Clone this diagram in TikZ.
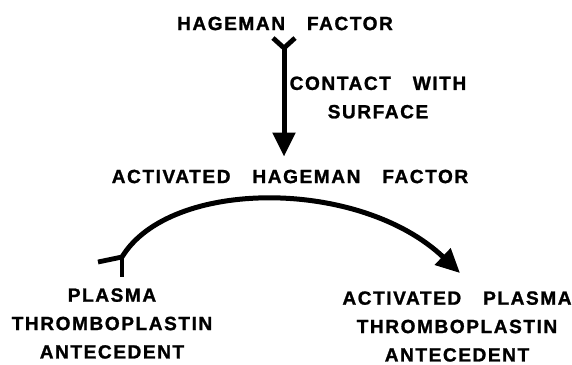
\documentclass[tikz,border=0pt]{standalone}
\usepackage{fontspec}
\usepackage{tikz}
\usetikzlibrary{arrows.meta}
\newfontfamily\lblfont[LetterSpace=8,WordSpace=3.2,FakeBold=1.2]{Liberation Sans Bold}

\begin{document}
\begin{tikzpicture}[x=0.025cm,y=-0.025cm,
  lbl/.style={font=\lblfont\fontsize{13.6pt}{20.2pt}\selectfont,align=center,inner sep=2pt},
  flow/.style={line width=0.125cm,-{Triangle[length=0.6cm,width=0.55cm]}},
  tail/.style={line width=0.12cm,line cap=butt}]
\useasboundingbox (0,0) rectangle (572,364);
\node[lbl] (hf) at (285,23.5) {HAGEMAN FACTOR};
\node[lbl] (cws) at (378,97.5) {CONTACT WITH\\SURFACE};
\node[lbl] (ahf) at (290,176.5) {ACTIVATED HAGEMAN FACTOR};
\node[lbl] (pta) at (112,323.5) {PLASMA\\THROMBOPLASTIN\\ANTECEDENT};
\node[lbl] (apta) at (457,326.5) {ACTIVATED PLASMA\\THROMBOPLASTIN\\ANTECEDENT};
% contact step
\coordinate (ytop) at (284,48);
\draw[tail] (ytop) -- ++(-11,-10);
\draw[tail] (ytop) -- ++(11,-10);
\draw[flow,shorten >=0.25cm] (ytop) -- (ahf.north -| ytop);
% activation step
\coordinate (tj) at (122,257);
\coordinate (tip) at (460,273);
\draw[tail] (tj) -- ++(-24,5);
\draw[tail] (tj) -- ++(0,20);
\draw[flow] (tj) .. controls (170,178) and (360,178) .. (tip);
\end{tikzpicture}
\end{document}
